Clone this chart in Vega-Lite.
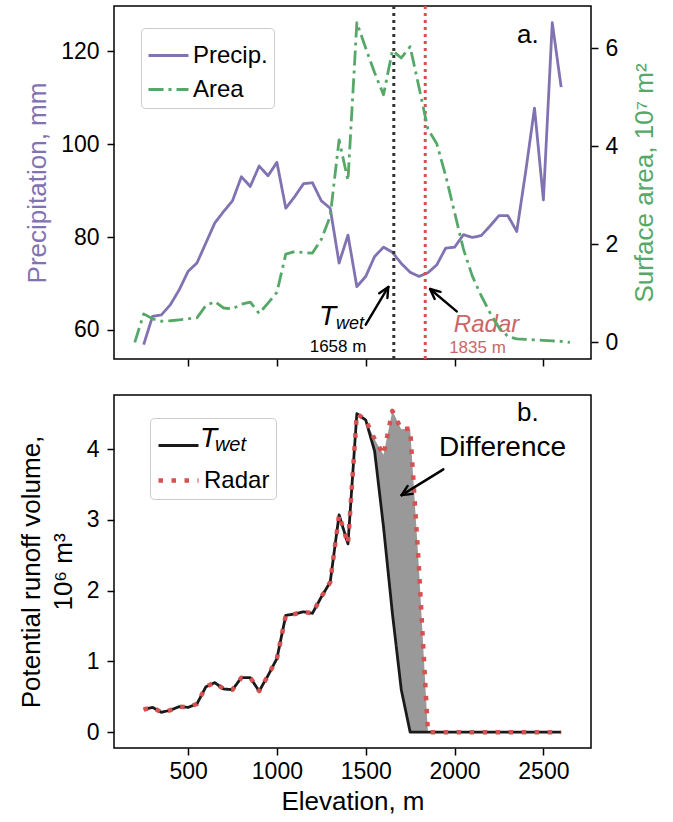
{
  "$schema": "https://vega.github.io/schema/vega-lite/v6.json",
  "background": "white",
  "padding": {"left": 17, "top": 3, "right": 5, "bottom": 5},
  "config": {
    "font": "Liberation Sans",
    "view": {"stroke": "black", "strokeWidth": 1.5},
    "axis": {"domain": false, "grid": false, "ticks": true, "tickColor": "black", "tickWidth": 1.5, "tickSize": 7, "labelFontSize": 23, "labelColor": "black", "labelFont": "Liberation Sans", "titleFont": "Liberation Sans", "titleFontSize": 26, "titleFontWeight": "normal", "titleColor": "black", "labelPadding": 8, "titlePadding": 10, "format": "d"}
  },
  "datasets": {
    "precip": [
      {"series": "Precip.", "E": 250, "v": 56.8}, {"series": "Precip.", "E": 300, "v": 62.9}, {"series": "Precip.", "E": 350, "v": 63.2}, {"series": "Precip.", "E": 400, "v": 65.4}, {"series": "Precip.", "E": 450, "v": 68.6}, {"series": "Precip.", "E": 500, "v": 72.6}, {"series": "Precip.", "E": 550, "v": 74.4}, {"series": "Precip.", "E": 600, "v": 78.7}, {"series": "Precip.", "E": 650, "v": 83.0}, {"series": "Precip.", "E": 700, "v": 85.5}, {"series": "Precip.", "E": 750, "v": 87.8}, {"series": "Precip.", "E": 800, "v": 93.0}, {"series": "Precip.", "E": 850, "v": 90.9}, {"series": "Precip.", "E": 900, "v": 95.3}, {"series": "Precip.", "E": 950, "v": 93.2}, {"series": "Precip.", "E": 1000, "v": 96.1}, {"series": "Precip.", "E": 1050, "v": 86.2}, {"series": "Precip.", "E": 1100, "v": 88.7}, {"series": "Precip.", "E": 1150, "v": 91.5}, {"series": "Precip.", "E": 1200, "v": 91.7}, {"series": "Precip.", "E": 1250, "v": 87.8}, {"series": "Precip.", "E": 1300, "v": 86.2}, {"series": "Precip.", "E": 1350, "v": 74.4}, {"series": "Precip.", "E": 1400, "v": 80.4}, {"series": "Precip.", "E": 1450, "v": 69.3}, {"series": "Precip.", "E": 1500, "v": 71.5}, {"series": "Precip.", "E": 1550, "v": 75.8}, {"series": "Precip.", "E": 1600, "v": 77.8}, {"series": "Precip.", "E": 1650, "v": 76.7}, {"series": "Precip.", "E": 1700, "v": 74.3}, {"series": "Precip.", "E": 1750, "v": 72.4}, {"series": "Precip.", "E": 1800, "v": 71.5}, {"series": "Precip.", "E": 1850, "v": 72.3}, {"series": "Precip.", "E": 1900, "v": 74.0}, {"series": "Precip.", "E": 1950, "v": 77.6}, {"series": "Precip.", "E": 2000, "v": 77.8}, {"series": "Precip.", "E": 2050, "v": 80.5}, {"series": "Precip.", "E": 2100, "v": 79.9}, {"series": "Precip.", "E": 2150, "v": 80.3}, {"series": "Precip.", "E": 2200, "v": 82.4}, {"series": "Precip.", "E": 2250, "v": 84.6}, {"series": "Precip.", "E": 2300, "v": 84.6}, {"series": "Precip.", "E": 2350, "v": 81.2}, {"series": "Precip.", "E": 2400, "v": 94.0}, {"series": "Precip.", "E": 2450, "v": 107.8}, {"series": "Precip.", "E": 2500, "v": 88.0}, {"series": "Precip.", "E": 2550, "v": 126.2}, {"series": "Precip.", "E": 2600, "v": 112.3}
    ],
    "area": [
      {"series": "Area", "E": 200, "v": 0.0}, {"series": "Area", "E": 250, "v": 0.58}, {"series": "Area", "E": 300, "v": 0.48}, {"series": "Area", "E": 350, "v": 0.43}, {"series": "Area", "E": 400, "v": 0.44}, {"series": "Area", "E": 450, "v": 0.46}, {"series": "Area", "E": 500, "v": 0.48}, {"series": "Area", "E": 550, "v": 0.5}, {"series": "Area", "E": 600, "v": 0.75}, {"series": "Area", "E": 650, "v": 0.83}, {"series": "Area", "E": 700, "v": 0.7}, {"series": "Area", "E": 750, "v": 0.68}, {"series": "Area", "E": 800, "v": 0.78}, {"series": "Area", "E": 850, "v": 0.82}, {"series": "Area", "E": 900, "v": 0.59}, {"series": "Area", "E": 950, "v": 0.8}, {"series": "Area", "E": 1000, "v": 1.02}, {"series": "Area", "E": 1050, "v": 1.8}, {"series": "Area", "E": 1100, "v": 1.85}, {"series": "Area", "E": 1150, "v": 1.83}, {"series": "Area", "E": 1200, "v": 1.82}, {"series": "Area", "E": 1250, "v": 2.1}, {"series": "Area", "E": 1300, "v": 2.57}, {"series": "Area", "E": 1350, "v": 4.13}, {"series": "Area", "E": 1400, "v": 3.3}, {"series": "Area", "E": 1450, "v": 6.52}, {"series": "Area", "E": 1500, "v": 6.0}, {"series": "Area", "E": 1550, "v": 5.5}, {"series": "Area", "E": 1600, "v": 5.05}, {"series": "Area", "E": 1650, "v": 5.95}, {"series": "Area", "E": 1700, "v": 5.8}, {"series": "Area", "E": 1750, "v": 6.03}, {"series": "Area", "E": 1800, "v": 5.2}, {"series": "Area", "E": 1850, "v": 4.35}, {"series": "Area", "E": 1900, "v": 4.05}, {"series": "Area", "E": 1950, "v": 3.4}, {"series": "Area", "E": 2000, "v": 2.65}, {"series": "Area", "E": 2050, "v": 1.9}, {"series": "Area", "E": 2100, "v": 1.35}, {"series": "Area", "E": 2150, "v": 0.95}, {"series": "Area", "E": 2200, "v": 0.6}, {"series": "Area", "E": 2250, "v": 0.3}, {"series": "Area", "E": 2300, "v": 0.12}, {"series": "Area", "E": 2350, "v": 0.07}, {"series": "Area", "E": 2400, "v": 0.06}, {"series": "Area", "E": 2450, "v": 0.05}, {"series": "Area", "E": 2500, "v": 0.04}, {"series": "Area", "E": 2550, "v": 0.03}, {"series": "Area", "E": 2600, "v": 0.02}, {"series": "Area", "E": 2650, "v": 0.0}
    ],
    "runoff": [
      {"E": 250, "Twet": 0.32, "Radar": 0.32}, {"E": 300, "Twet": 0.35, "Radar": 0.35}, {"E": 350, "Twet": 0.28, "Radar": 0.28}, {"E": 400, "Twet": 0.31, "Radar": 0.31}, {"E": 450, "Twet": 0.36, "Radar": 0.36}, {"E": 500, "Twet": 0.35, "Radar": 0.35}, {"E": 550, "Twet": 0.4, "Radar": 0.4}, {"E": 600, "Twet": 0.64, "Radar": 0.64}, {"E": 650, "Twet": 0.7, "Radar": 0.7}, {"E": 700, "Twet": 0.61, "Radar": 0.61}, {"E": 750, "Twet": 0.6, "Radar": 0.6}, {"E": 800, "Twet": 0.77, "Radar": 0.77}, {"E": 850, "Twet": 0.77, "Radar": 0.77}, {"E": 900, "Twet": 0.58, "Radar": 0.58}, {"E": 950, "Twet": 0.8, "Radar": 0.8}, {"E": 1000, "Twet": 1.04, "Radar": 1.04}, {"E": 1050, "Twet": 1.65, "Radar": 1.65}, {"E": 1100, "Twet": 1.67, "Radar": 1.67}, {"E": 1150, "Twet": 1.7, "Radar": 1.7}, {"E": 1200, "Twet": 1.68, "Radar": 1.68}, {"E": 1250, "Twet": 1.91, "Radar": 1.91}, {"E": 1300, "Twet": 2.12, "Radar": 2.12}, {"E": 1350, "Twet": 3.07, "Radar": 3.07}, {"E": 1400, "Twet": 2.66, "Radar": 2.66}, {"E": 1450, "Twet": 4.5, "Radar": 4.5}, {"E": 1500, "Twet": 4.41, "Radar": 4.41}, {"E": 1550, "Twet": 3.97, "Radar": 4.14}, {"E": 1600, "Twet": 2.9, "Radar": 3.92}, {"E": 1650, "Twet": 1.68, "Radar": 4.54}, {"E": 1700, "Twet": 0.6, "Radar": 4.28}, {"E": 1750, "Twet": 0.0, "Radar": 4.29}, {"E": 1800, "Twet": 0.0, "Radar": 2.3}, {"E": 1850, "Twet": 0.0, "Radar": 0.0}, {"E": 1900, "Twet": 0.0, "Radar": 0.0}, {"E": 1950, "Twet": 0.0, "Radar": 0.0}, {"E": 2000, "Twet": 0.0, "Radar": 0.0}, {"E": 2050, "Twet": 0.0, "Radar": 0.0}, {"E": 2100, "Twet": 0.0, "Radar": 0.0}, {"E": 2150, "Twet": 0.0, "Radar": 0.0}, {"E": 2200, "Twet": 0.0, "Radar": 0.0}, {"E": 2250, "Twet": 0.0, "Radar": 0.0}, {"E": 2300, "Twet": 0.0, "Radar": 0.0}, {"E": 2350, "Twet": 0.0, "Radar": 0.0}, {"E": 2400, "Twet": 0.0, "Radar": 0.0}, {"E": 2450, "Twet": 0.0, "Radar": 0.0}, {"E": 2500, "Twet": 0.0, "Radar": 0.0}, {"E": 2550, "Twet": 0.0, "Radar": 0.0}, {"E": 2600, "Twet": 0.0, "Radar": 0.0}
    ],
    "arrowsTop": [
      {"E": 1500, "v": 61.1, "E2": 1627, "v2": 69.23}, {"E": 1627, "v": 69.23, "E2": 1576, "v2": 67.87}, {"E": 1627, "v": 69.23, "E2": 1622, "v2": 66.85},
      {"E": 2012, "v": 63.97, "E2": 1862, "v2": 68.79}, {"E": 1862, "v": 68.79, "E2": 1888, "v2": 66.64}, {"E": 1862, "v": 68.79, "E2": 1921, "v2": 68.17}
    ],
    "arrowsBottom": [
      {"E": 1937, "v": 3.713, "E2": 1702, "v2": 3.349}, {"E": 1702, "v": 3.349, "E2": 1764, "v2": 3.367}, {"E": 1702, "v": 3.349, "E2": 1736, "v2": 3.479}
    ]
  },
  "spacing": 36,
  "bounds": "flush",
  "resolve": {"scale": {"color": "independent", "strokeDash": "independent", "strokeWidth": "independent"}},
  "vconcat": [
    {
      "width": 477,
      "height": 353,
      "layer": [
        {
          "layer": [
            {
              "data": {"name": "precip"},
              "mark": {"type": "line", "strokeWidth": 2.8, "strokeJoin": "round"},
              "encoding": {
                "x": {"field": "E", "type": "quantitative", "scale": {"domain": [83, 2768], "nice": false, "zero": false}, "axis": {"values": [500, 1000, 1500, 2000, 2500], "labels": false, "title": null}},
                "y": {"field": "v", "type": "quantitative", "scale": {"domain": [53.7, 129.8], "nice": false, "zero": false}, "axis": {"values": [60, 80, 100, 120], "title": "Precipitation, mm", "titleColor": "#8172b2"}},
                "color": {"field": "series", "type": "nominal", "scale": {"domain": ["Precip.", "Area"], "range": ["#8172b2", "#55a868"]}, "legend": {"title": null, "orient": "none", "legendX": 27, "legendY": 22, "symbolType": "stroke", "symbolSize": 1600, "symbolStrokeWidth": 2.8, "labelFontSize": 24, "labelColor": "black", "padding": 6, "rowPadding": -1, "labelOffset": 3, "strokeColor": "#cccccc", "fillColor": "rgba(255,255,255,0.85)", "cornerRadius": 4}},
                "strokeDash": {"field": "series", "type": "nominal", "scale": {"domain": ["Precip.", "Area"], "range": [[1, 0], [15, 5, 3, 5]]}, "legend": {"title": null, "orient": "none", "legendX": 27, "legendY": 22, "symbolType": "stroke", "symbolSize": 1600, "symbolStrokeWidth": 2.8, "labelFontSize": 24, "labelColor": "black", "padding": 6, "rowPadding": -1, "labelOffset": 3, "strokeColor": "#cccccc", "fillColor": "rgba(255,255,255,0.85)", "cornerRadius": 4}}
              }
            },
            {
              "data": {"values": [{"E": 1658}]},
              "mark": {"type": "rule", "color": "#333333", "strokeWidth": 3, "strokeDash": [3, 4]},
              "encoding": {"x": {"field": "E", "type": "quantitative"}}
            },
            {
              "data": {"values": [{"E": 1835}]},
              "mark": {"type": "rule", "color": "#d65151", "strokeWidth": 3, "strokeDash": [3, 4]},
              "encoding": {"x": {"field": "E", "type": "quantitative"}}
            },
            {
              "data": {"name": "arrowsTop"},
              "mark": {"type": "rule", "color": "black", "strokeWidth": 2.4, "strokeCap": "round"},
              "encoding": {"x": {"field": "E", "type": "quantitative"}, "y": {"field": "v", "type": "quantitative"}, "x2": {"field": "E2"}, "y2": {"field": "v2"}}
            },
            {
              "data": {"values": [{"E": 1237, "v": 61.1, "t": "T"}]},
              "mark": {"type": "text", "align": "left", "baseline": "alphabetic", "fontSize": 28, "fontStyle": "italic", "color": "black"},
              "encoding": {"x": {"field": "E", "type": "quantitative"}, "y": {"field": "v", "type": "quantitative"}, "text": {"field": "t"}}
            },
            {
              "data": {"values": [{"E": 1333, "v": 60.2, "t": "wet"}]},
              "mark": {"type": "text", "align": "left", "baseline": "alphabetic", "fontSize": 18, "fontStyle": "italic", "color": "black"},
              "encoding": {"x": {"field": "E", "type": "quantitative"}, "y": {"field": "v", "type": "quantitative"}, "text": {"field": "t"}}
            },
            {
              "data": {"values": [{"E": 1344, "v": 55.3, "t": "1658 m"}]},
              "mark": {"type": "text", "align": "center", "baseline": "alphabetic", "fontSize": 17, "color": "black"},
              "encoding": {"x": {"field": "E", "type": "quantitative"}, "y": {"field": "v", "type": "quantitative"}, "text": {"field": "t"}}
            },
            {
              "data": {"values": [{"E": 2180, "v": 59.6, "t": "Radar"}]},
              "mark": {"type": "text", "align": "center", "baseline": "alphabetic", "fontSize": 24, "fontStyle": "italic", "color": "#c96767"},
              "encoding": {"x": {"field": "E", "type": "quantitative"}, "y": {"field": "v", "type": "quantitative"}, "text": {"field": "t"}}
            },
            {
              "data": {"values": [{"E": 2129, "v": 55.1, "t": "1835 m"}]},
              "mark": {"type": "text", "align": "center", "baseline": "alphabetic", "fontSize": 17, "color": "#c96767"},
              "encoding": {"x": {"field": "E", "type": "quantitative"}, "y": {"field": "v", "type": "quantitative"}, "text": {"field": "t"}}
            },
            {
              "data": {"values": [{"E": 2413, "v": 121.8, "t": "a."}]},
              "mark": {"type": "text", "align": "center", "baseline": "alphabetic", "fontSize": 26, "color": "black"},
              "encoding": {"x": {"field": "E", "type": "quantitative"}, "y": {"field": "v", "type": "quantitative"}, "text": {"field": "t"}}
            }
          ]
        },
        {
          "data": {"name": "area"},
          "mark": {"type": "line", "strokeWidth": 2.8, "strokeJoin": "round"},
          "encoding": {
            "x": {"field": "E", "type": "quantitative"},
            "y": {"field": "v", "type": "quantitative", "scale": {"domain": [-0.34, 6.86], "nice": false, "zero": false}, "axis": {"orient": "right", "values": [0, 2, 4, 6], "title": "Surface area, 10⁷ m²", "titleColor": "#55a868", "titleAngle": 270, "titleBaseline": "top", "labelPadding": 7, "titlePadding": 14}},
            "color": {"field": "series", "type": "nominal"},
            "strokeDash": {"field": "series", "type": "nominal"}
          }
        }
      ],
      "resolve": {"scale": {"y": "independent"}}
    },
    {
      "width": 477,
      "height": 353,
      "data": {"name": "runoff"},
      "layer": [
        {
          "mark": {"type": "area", "color": "#999999", "opacity": 1},
          "encoding": {
            "x": {"field": "E", "type": "quantitative", "scale": {"domain": [83, 2768], "nice": false, "zero": false}, "axis": {"values": [500, 1000, 1500, 2000, 2500], "title": "Elevation, m", "labelPadding": 5, "titlePadding": 5}},
            "y": {"field": "Radar", "type": "quantitative", "scale": {"domain": [-0.224, 4.764], "nice": false, "zero": false}, "axis": {"values": [0, 1, 2, 3, 4], "title": ["Potential runoff volume,", "10⁶ m³"], "titleLineHeight": 32}},
            "y2": {"field": "Twet"}
          }
        },
        {
          "transform": [{"fold": ["Twet", "Radar"], "as": ["series", "v"]}, {"filter": "datum.series == 'Twet'"}],
          "mark": {"type": "line", "strokeJoin": "round"},
          "encoding": {
            "x": {"field": "E", "type": "quantitative"},
            "y": {"field": "v", "type": "quantitative"},
            "color": {"field": "series", "type": "nominal", "scale": {"domain": ["Twet", "Radar"], "range": ["#1a1a1a", "#d65151"]}, "legend": {"title": null, "orient": "none", "legendX": 36, "legendY": 23, "symbolType": "stroke", "symbolSize": 1600, "labelFontSize": 24, "labelColor": "black", "padding": 6, "rowPadding": 0, "labelOffset": 3, "strokeColor": "#cccccc", "fillColor": "transparent", "cornerRadius": 4, "labelExpr": "datum.label == 'Twet' ? '' : datum.label"}},
            "strokeDash": {"field": "series", "type": "nominal", "scale": {"domain": ["Twet", "Radar"], "range": [[1, 0], [4.5, 8.5]]}, "legend": {"title": null, "orient": "none", "legendX": 36, "legendY": 23, "symbolType": "stroke", "symbolSize": 1600, "labelFontSize": 24, "labelColor": "black", "padding": 6, "rowPadding": 0, "labelOffset": 3, "strokeColor": "#cccccc", "fillColor": "transparent", "cornerRadius": 4, "labelExpr": "datum.label == 'Twet' ? '' : datum.label"}},
            "strokeWidth": {"field": "series", "type": "ordinal", "scale": {"domain": ["Twet", "Radar"], "range": [2.8, 4.5]}, "legend": {"title": null, "orient": "none", "legendX": 36, "legendY": 23, "symbolType": "stroke", "symbolSize": 1600, "labelFontSize": 24, "labelColor": "black", "padding": 6, "rowPadding": 0, "labelOffset": 3, "strokeColor": "#cccccc", "fillColor": "transparent", "cornerRadius": 4, "labelExpr": "datum.label == 'Twet' ? '' : datum.label"}}
          }
        },
        {
          "transform": [{"fold": ["Twet", "Radar"], "as": ["series", "v"]}, {"filter": "datum.series == 'Radar'"}],
          "mark": {"type": "line", "strokeJoin": "round"},
          "encoding": {
            "x": {"field": "E", "type": "quantitative"},
            "y": {"field": "v", "type": "quantitative"},
            "color": {"field": "series", "type": "nominal"},
            "strokeDash": {"field": "series", "type": "nominal"},
            "strokeWidth": {"field": "series", "type": "ordinal"}
          }
        },
        {
          "data": {"name": "arrowsBottom"},
          "mark": {"type": "rule", "color": "black", "strokeWidth": 2.4, "strokeCap": "round"},
          "encoding": {"x": {"field": "E", "type": "quantitative"}, "y": {"field": "v", "type": "quantitative"}, "x2": {"field": "E2"}, "y2": {"field": "v2"}}
        },
        {
          "data": {"values": [{"E": 2270, "v": 3.9, "t": "Difference"}]},
          "mark": {"type": "text", "align": "center", "baseline": "alphabetic", "fontSize": 28, "color": "black"},
          "encoding": {"x": {"field": "E", "type": "quantitative"}, "y": {"field": "v", "type": "quantitative"}, "text": {"field": "t"}}
        },
        {
          "data": {"values": [{"E": 2413, "v": 4.4, "t": "b."}]},
          "mark": {"type": "text", "align": "center", "baseline": "alphabetic", "fontSize": 26, "color": "black"},
          "encoding": {"x": {"field": "E", "type": "quantitative"}, "y": {"field": "v", "type": "quantitative"}, "text": {"field": "t"}}
        },
        {
          "data": {"values": [{"E": 567, "v": 4.028, "t": "T"}]},
          "mark": {"type": "text", "align": "left", "baseline": "alphabetic", "fontSize": 28, "fontStyle": "italic", "color": "black"},
          "encoding": {"x": {"field": "E", "type": "quantitative"}, "y": {"field": "v", "type": "quantitative"}, "text": {"field": "t"}}
        },
        {
          "data": {"values": [{"E": 651, "v": 3.97, "t": "wet"}]},
          "mark": {"type": "text", "align": "left", "baseline": "alphabetic", "fontSize": 20, "fontStyle": "italic", "color": "black"},
          "encoding": {"x": {"field": "E", "type": "quantitative"}, "y": {"field": "v", "type": "quantitative"}, "text": {"field": "t"}}
        }
      ]
    }
  ]
}
